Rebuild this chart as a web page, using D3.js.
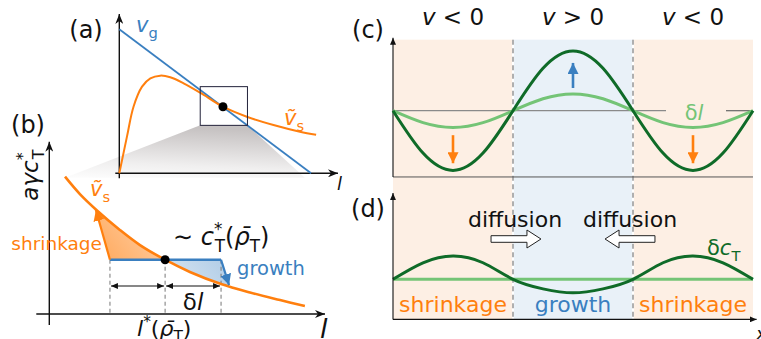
<!DOCTYPE html>
<html>
<head>
<meta charset="utf-8">
<script src="https://cdn.jsdelivr.net/npm/d3@7"></script>
<style>
  body { margin: 0; background: #fff; }
  text { font-family: "DejaVu Sans", sans-serif; }
</style>
</head>
<body>
<div id="fig"></div>
<script>
// ---- data ----
// panel (a): growth velocity v_g (straight) and shrinkage velocity v~_s
var vgX = [0, 0.877];
var vgY = [0.904, 0];
var vsAX = [0, 0.035, 0.065, 0.104, 0.142, 0.187, 0.233, 0.294, 0.37, 0.474, 0.583, 0.705, 0.826, 0.9];
var vsAY = [0, 0.23, 0.418, 0.544, 0.596, 0.613, 0.603, 0.565, 0.506, 0.418, 0.355, 0.303, 0.261, 0.242];
var fixA = [0.474, 0.418];
var boxA = [0.37, 0.586, 0.301, 0.544];

// panel (b): zoom on v~_s near the fixed point
var vsBX = [0.057, 0.111, 0.173, 0.256, 0.329, 0.420, 0.510, 0.623, 0.728, 0.837, 0.927];
var vsBY = [0.797, 0.696, 0.601, 0.488, 0.400, 0.315, 0.244, 0.174, 0.125, 0.081, 0.046];
var fixB = [0.42, 0.315];
var shrinkB = 0.22, growB = 0.623;
var shrinkTip = [0.169, 0.604], growTip = [0.652, 0.168];
var spanB = 0.1625;

// panels (c), (d): regions and profiles along x
var regions = [[0, 1, "shrink"], [1, 2, "grow"], [2, 3, "shrink"]];
var headC = ["<", ">", "<"];
var regionLabels = ["shrinkage", "growth", "shrinkage"];
var waveX = [0, 0.25, 0.5, 0.75, 1, 1.25, 1.5, 1.75, 2, 2.25, 2.5, 2.75, 3];
var dRho = [0, -0.71, -1, -0.71, 0, 0.71, 1, 0.71, 0, -0.71, -1, -0.71, 0];
var dL   = [0, -0.2, -0.28, -0.2, 0, 0.2, 0.28, 0.2, 0, -0.2, -0.28, -0.2, 0];
var dC   = [0, 0.71, 1, 0.71, 0, -0.41, -0.58, -0.41, 0, 0.71, 1, 0.71, 0];
var dCbase = [0, 0, 0, 0, 0, 0, 0, 0, 0, 0, 0, 0, 0];

var ORANGE = "#ff7f0e", BLUE = "#3a7fc0", DKGREEN = "#0f6b28", LTGREEN = "#74c476";

var svg = d3.select("#fig").append("svg")
    .attr("width", 761).attr("height", 339);
var defs = svg.append("defs");

function marker(id, color, len, wid, stealth) {
  defs.append("marker")
      .attr("id", id).attr("markerUnits", "userSpaceOnUse")
      .attr("viewBox", "0 -5 10 10").attr("refX", 10).attr("refY", 0)
      .attr("markerWidth", len).attr("markerHeight", wid)
      .attr("orient", "auto-start-reverse").attr("preserveAspectRatio", "none")
    .append("path")
      .attr("d", stealth ? "M0,-5L10,0L0,5L3,0Z" : "M0,-5L10,0L0,5Z")
      .attr("fill", color);
}
marker("axis", "#111", 10, 8, true);
marker("small", "#111", 7, 6, false);
marker("org", ORANGE, 11, 11, false);
marker("blu", BLUE, 11, 11, false);

function grad(id, stops, x1, y1, x2, y2) {
  var g = defs.append("linearGradient").attr("id", id)
      .attr("x1", x1).attr("y1", y1).attr("x2", x2).attr("y2", y2);
  stops.forEach(function(s) {
    g.append("stop").attr("offset", s[0]).attr("stop-color", s[1]).attr("stop-opacity", s[2]);
  });
}
grad("shade", [[0, "#c6c2c2", 1], [0.7, "#f0efef", 1], [1, "#fcfcfc", 1]], 0.3, 0, 0.1, 1);
grad("ofill", [[0, ORANGE, 0.8], [0.85, ORANGE, 0.03], [1, ORANGE, 0]], 0, 0.7, 1, 0.3);
grad("bfill", [[0, BLUE, 0], [1, BLUE, 0.7]], 0, 0.6, 1, 0.2);

function mathText(sel, x, y, parts, size, color, anchor) {
  var t = sel.append("text").attr("x", x).attr("y", y)
      .attr("font-size", size).attr("fill", color)
      .attr("text-anchor", anchor || "start");
  var shift = 0;
  parts.forEach(function(p) {
    var st = (p[1] || "").split(" "), target = 0, fs = size;
    if (st.indexOf("sub") >= 0) { target = size * 0.28; fs = size * 0.7; }
    if (st.indexOf("sup") >= 0) { target = -size * 0.42; fs = size * 0.7; }
    var ts = t.append("tspan").attr("dy", target - shift).attr("font-size", fs).text(p[0]);
    if (st.indexOf("it") >= 0) ts.attr("font-style", "italic");
    if (p[2]) ts.attr("dx", p[2]);
    shift = target;
  });
  return t;
}

// ---------------- panel (a) and (b) ----------------
var xA = d3.scaleLinear().domain([0, 1]).range([119.3, 338]);
var yA = d3.scaleLinear().domain([0, 1]).range([173.3, 14]);
var xB = d3.scaleLinear().domain([0, 1]).range([49.3, 325]);
var yB = d3.scaleLinear().domain([0, 1]).range([314, 141.7]);

// shaded zoom projection
var nB = vsBX.length - 1;
svg.append("path")
    .attr("d", "M" + [[xA(boxA[0]), yA(boxA[2])], [xA(boxA[1]), yA(boxA[2])],
                      [xB(vsBX[nB]), yB(vsBY[0]) + 1], [xB(vsBX[0]), yB(vsBY[0]) + 1]].join("L") + "Z")
    .attr("fill", "url(#shade)");

var gA = svg.append("g");
gA.append("line").attr("x1", xA(0)).attr("y1", yA(0) + 5).attr("x2", xA(0)).attr("y2", yA(1))
    .attr("stroke", "#111").attr("stroke-width", 1.4).attr("marker-end", "url(#axis)");
gA.append("line").attr("x1", xA(0) - 4).attr("y1", yA(0)).attr("x2", xA(1)).attr("y2", yA(0))
    .attr("stroke", "#111").attr("stroke-width", 1.4).attr("marker-end", "url(#axis)");

var lineA = d3.line().x(function(d) { return xA(d[0]); }).y(function(d) { return yA(d[1]); });
gA.append("path").attr("d", lineA(d3.zip(vgX, vgY)))
    .attr("fill", "none").attr("stroke", BLUE).attr("stroke-width", 1.8);
gA.append("path").attr("d", lineA.curve(d3.curveCatmullRom.alpha(0.5))(d3.zip(vsAX, vsAY)))
    .attr("fill", "none").attr("stroke", ORANGE).attr("stroke-width", 2);
gA.append("rect").attr("x", xA(boxA[0])).attr("y", yA(boxA[3]))
    .attr("width", xA(boxA[1]) - xA(boxA[0])).attr("height", yA(boxA[2]) - yA(boxA[3]))
    .attr("fill", "none").attr("stroke", "#22223a").attr("stroke-width", 1);
gA.append("circle").attr("cx", xA(fixA[0])).attr("cy", yA(fixA[1])).attr("r", 4.5).attr("fill", "#000");

mathText(svg, 86, 38, [["(a)"]], 24, "#111", "middle");
mathText(svg, 136, 32, [["v", "it"], ["g", "sub"]], 21, BLUE);
mathText(svg, 284, 125, [["ṽ", "it"], ["s", "sub"]], 21, ORANGE);
mathText(svg, 337, 190, [["l", "it"]], 18, "#111");

// panel (b)
var gB = svg.append("g");
var pB = d3.zip(vsBX, vsBY);
var lineB = d3.line().x(function(d) { return xB(d[0]); }).y(function(d) { return yB(d[1]); })
    .curve(d3.curveCatmullRom.alpha(0.5));
var areaB = d3.area().x(function(d) { return xB(d[0]); })
    .y0(yB(fixB[1])).y1(function(d) { return yB(d[1]); })
    .curve(d3.curveCatmullRom.alpha(0.5));

function clip(id, pts) {
  defs.append("clipPath").attr("id", id).append("path")
      .attr("d", "M" + pts.map(function(p) { return [xB(p[0]), yB(p[1])]; }).join("L") + "Z");
}
clip("cOrange", [[shrinkB, fixB[1]], shrinkTip, [shrinkTip[0], 1], [fixB[0], 1], fixB]);
clip("cBlue", [fixB, [growB, fixB[1]], growTip, [growTip[0], 0], [fixB[0], 0]]);

gB.append("path").attr("d", areaB(pB)).attr("fill", "url(#ofill)").attr("clip-path", "url(#cOrange)");
gB.append("path").attr("d", areaB(pB)).attr("fill", "url(#bfill)").attr("clip-path", "url(#cBlue)");

[shrinkB, fixB[0], growB].forEach(function(v) {
  gB.append("line").attr("x1", xB(v)).attr("x2", xB(v)).attr("y1", yB(fixB[1])).attr("y2", yB(0))
      .attr("stroke", "#777").attr("stroke-width", 1).attr("stroke-dasharray", "4,3");
});
[[shrinkB, fixB[0]], [fixB[0], growB]].forEach(function(s) {
  gB.append("line").attr("x1", xB(s[0]) + 1).attr("x2", xB(s[1]) - 1)
      .attr("y1", yB(spanB)).attr("y2", yB(spanB))
      .attr("stroke", "#111").attr("stroke-width", 1.2)
      .attr("marker-start", "url(#small)").attr("marker-end", "url(#small)");
});

gB.append("line").attr("x1", xB(0)).attr("y1", yB(0) + 11).attr("x2", xB(0)).attr("y2", yB(1))
    .attr("stroke", "#111").attr("stroke-width", 1.4).attr("marker-end", "url(#axis)");
gB.append("line").attr("x1", xB(0) - 13).attr("y1", yB(0)).attr("x2", xB(1)).attr("y2", yB(0))
    .attr("stroke", "#111").attr("stroke-width", 1.4).attr("marker-end", "url(#axis)");

gB.append("path").attr("d", lineB(pB)).attr("fill", "none")
    .attr("stroke", ORANGE).attr("stroke-width", 2.6);
gB.append("line").attr("x1", xB(shrinkB)).attr("x2", xB(growB))
    .attr("y1", yB(fixB[1])).attr("y2", yB(fixB[1]))
    .attr("stroke", BLUE).attr("stroke-width", 2.6);
gB.append("line").attr("x1", xB(shrinkB)).attr("y1", yB(fixB[1]))
    .attr("x2", xB(shrinkTip[0])).attr("y2", yB(shrinkTip[1]))
    .attr("stroke", ORANGE).attr("stroke-width", 2.2).attr("marker-end", "url(#org)");
gB.append("line").attr("x1", xB(growB)).attr("y1", yB(fixB[1]))
    .attr("x2", xB(growTip[0])).attr("y2", yB(growTip[1]))
    .attr("stroke", BLUE).attr("stroke-width", 2.2).attr("marker-end", "url(#blu)");
gB.append("circle").attr("cx", xB(fixB[0])).attr("cy", yB(fixB[1])).attr("r", 4.5).attr("fill", "#000");

mathText(svg, 28, 133, [["(b)"]], 24, "#111", "middle");
mathText(svg, 90, 196, [["ṽ", "it"], ["s", "sub"]], 21, ORANGE);
mathText(svg, 102, 250, [["shrinkage"]], 18.5, ORANGE, "end");
mathText(svg, 237, 275, [["growth"]], 19.5, BLUE);
mathText(svg, 173, 245, [["∼  "], ["c", "it"], ["*", "sup"], ["T", "sub", -7.5], ["("], ["ρ̄", "it"], ["T", "sub"], [")"]], 24, "#111");
mathText(svg, xB((fixB[0] + growB) / 2), 310, [["δ"], ["l", "it"]], 23, "#111", "middle");
mathText(svg, 137, 336, [["l", "it"], ["*", "sup"], ["("], ["ρ̄", "it"], ["T", "sub"], [")"]], 22, "#111");
mathText(svg, 320, 338, [["l", "it"]], 27, "#111");
var yl = svg.append("g").attr("transform", "translate(38,175) rotate(-90)");
mathText(yl, 0, 0, [["aγc", "it"], ["*", "sup"], ["T", "sub", -7]], 23, "#111", "middle");

// ---------------- panels (c) and (d) ----------------
var xC = d3.scaleLinear().domain([0, 3]).range([393, 753]);
var yC = d3.scaleLinear().domain([-1, 1]).range([170.4, 51]);
var yD = d3.scaleLinear().domain([-1, 1]).range([302.6, 256]);
var bgTop = yC(1.19), bgBot = yD(-1.72);

var gC = svg.append("g");
gC.selectAll(".bg").data(regions).enter().append("rect")
    .attr("x", function(d) { return xC(d[0]); }).attr("width", function(d) { return xC(d[1]) - xC(d[0]); })
    .attr("y", bgTop).attr("height", bgBot - bgTop)
    .attr("fill", function(d) { return d[2] === "grow" ? "#e9f1f8" : "#fdefe4"; });
[1, 2].forEach(function(v) {
  gC.append("line").attr("x1", xC(v)).attr("x2", xC(v)).attr("y1", bgTop).attr("y2", bgBot)
      .attr("stroke", "#fff").attr("stroke-width", 2);
  gC.append("line").attr("x1", xC(v)).attr("x2", xC(v)).attr("y1", bgTop).attr("y2", bgBot)
      .attr("stroke", "#6e6e6e").attr("stroke-width", 1.1).attr("stroke-dasharray", "5,3.5");
});

// axes (c)
gC.append("line").attr("x1", xC(0)).attr("x2", xC(2.275)).attr("y1", yC(0)).attr("y2", yC(0))
    .attr("stroke", "#8a8a8a").attr("stroke-width", 1.2);
gC.append("line").attr("x1", xC(2.775)).attr("x2", xC(3)).attr("y1", yC(0)).attr("y2", yC(0))
    .attr("stroke", "#666").attr("stroke-width", 1.2);
gC.append("line").attr("x1", xC(0)).attr("x2", xC(3)).attr("y1", yC(-1.11)).attr("y2", yC(-1.11))
    .attr("stroke", "#555").attr("stroke-width", 1);
gC.append("line").attr("x1", xC(0)).attr("x2", xC(0)).attr("y1", yC(-1.11)).attr("y2", yC(1.22))
    .attr("stroke", "#111").attr("stroke-width", 1.1).attr("marker-end", "url(#small)");

var lineC = d3.line().x(function(d) { return xC(d[0]); }).y(function(d) { return yC(d[1]); })
    .curve(d3.curveNatural);
gC.append("path").attr("d", lineC(d3.zip(waveX, dL)))
    .attr("fill", "none").attr("stroke", LTGREEN).attr("stroke-width", 3);
gC.append("path").attr("d", lineC(d3.zip(waveX, dRho)))
    .attr("fill", "none").attr("stroke", DKGREEN).attr("stroke-width", 3);

[[0.5, -0.41, -0.88, "org", ORANGE], [1.5, 0.38, 0.8, "blu", BLUE], [2.5, -0.41, -0.88, "org", ORANGE]].forEach(function(a) {
  gC.append("line").attr("x1", xC(a[0])).attr("x2", xC(a[0])).attr("y1", yC(a[1])).attr("y2", yC(a[2]))
      .attr("stroke", a[4]).attr("stroke-width", 2.6).attr("marker-end", "url(#" + a[3] + ")");
});

mathText(svg, 368, 38, [["(c)"]], 24, "#111", "middle");
regions.forEach(function(r, i) {
  mathText(svg, xC((r[0] + r[1]) / 2), 25, [["v", "it"], ["  " + headC[i] + "  0"]], 23, "#111", "middle");
});
mathText(svg, 694, 120, [["δ"], ["l", "it"]], 21, LTGREEN, "middle");

// panel (d)
var gD = svg.append("g");
var lineD = d3.line().x(function(d) { return xC(d[0]); }).y(function(d) { return yD(d[1]); })
    .curve(d3.curveNatural);
gD.append("path").attr("d", lineD(d3.zip(waveX, dCbase)))
    .attr("fill", "none").attr("stroke", LTGREEN).attr("stroke-width", 3);
gD.append("path").attr("d", lineD(d3.zip(waveX, dC)))
    .attr("fill", "none").attr("stroke", DKGREEN).attr("stroke-width", 3);
gD.append("line").attr("x1", xC(0)).attr("x2", xC(0)).attr("y1", bgBot).attr("y2", yD(3.7))
    .attr("stroke", "#111").attr("stroke-width", 1.1).attr("marker-end", "url(#small)");
gD.append("line").attr("x1", xC(0)).attr("x2", xC(3.03)).attr("y1", bgBot).attr("y2", bgBot)
    .attr("stroke", "#111").attr("stroke-width", 1.1).attr("marker-end", "url(#small)");

// hollow diffusion arrows
function hollow(x0, x1, yc) {
  var dir = x1 > x0 ? 1 : -1, xb = x1 - dir * 14;
  var pts = [[x0, yc - 3.3], [xb, yc - 3.3], [xb, yc - 9], [x1, yc], [xb, yc + 9], [xb, yc + 3.3], [x0, yc + 3.3]];
  gD.append("path").attr("d", "M" + pts.join("L") + "Z")
      .attr("fill", "#fff").attr("stroke", "#222").attr("stroke-width", 1);
}
hollow(xC(0.817), xC(1.233), 239);
hollow(xC(2.183), xC(1.767), 239);
mathText(svg, 515, 227, [["diffusion"]], 22, "#111", "middle");
mathText(svg, 630, 227, [["diffusion"]], 22, "#111", "middle");
mathText(svg, 707, 255, [["δ"], ["c", "it"], ["T", "sub"]], 21, DKGREEN);
mathText(svg, 368, 217, [["(d)"]], 24, "#111", "middle");
regions.forEach(function(r, i) {
  mathText(svg, xC((r[0] + r[1]) / 2), 312, [[regionLabels[i]]], 22, r[2] === "grow" ? BLUE : ORANGE, "middle");
});
mathText(svg, 756, 340, [["x", "it"]], 18, "#111");
</script>
</body>
</html>
